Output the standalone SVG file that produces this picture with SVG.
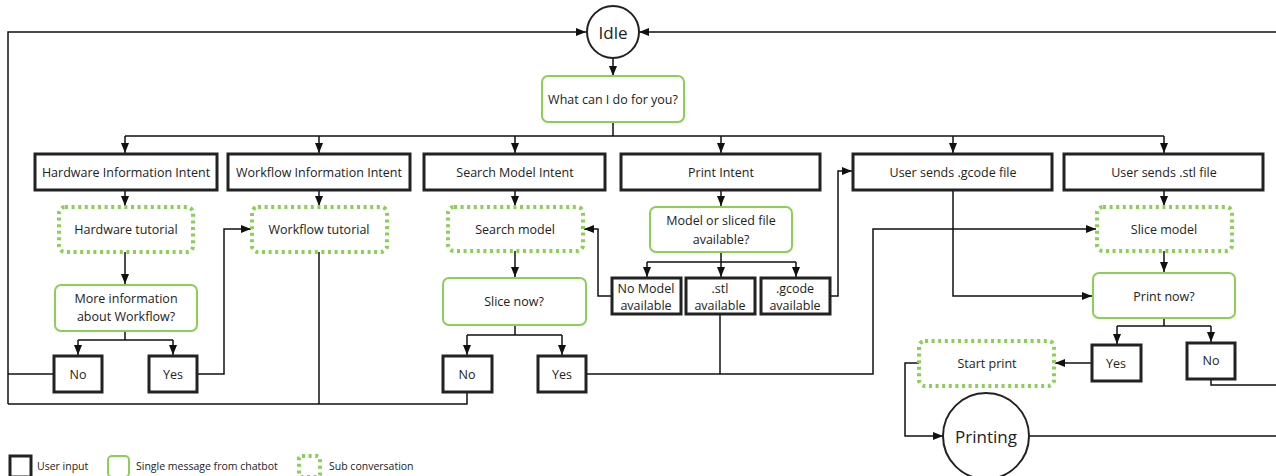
<svg xmlns="http://www.w3.org/2000/svg" width="1276" height="476" viewBox="0 0 1276 476">
<defs>
<marker id="arr" markerUnits="userSpaceOnUse" markerWidth="10" markerHeight="10" viewBox="0 0 10 10" refX="10" refY="5" orient="auto">
<path d="M0,1 L10,5 L0,9 Z" fill="#111"/>
</marker>
</defs>
<style>
text{font-family:"Open Sans","Noto Sans","Liberation Sans",sans-serif;fill:#222;text-anchor:middle;dominant-baseline:central}
.t{font-size:12.5px}
.big{font-size:17px}
.lg{font-size:10.5px;text-anchor:start}
.user{fill:#fff;stroke:#222;stroke-width:3}
.msg{fill:#fff;stroke:#8ccf55;stroke-width:2}
.sub{fill:#fff;stroke:#8ccf55;stroke-width:4;stroke-dasharray:3 3.6}
.circ{fill:#fff;stroke:#222;stroke-width:2}
.c{fill:none;stroke:#111;stroke-width:1.5}
.ca{fill:none;stroke:#111;stroke-width:1.5;marker-end:url(#arr)}
</style>
<g id="connectors">
<path class="ca" d="M8,404 V32 H586"/>
<path class="ca" d="M1276,32 H639"/>
<path class="ca" d="M613,58 V76"/>
<path class="c" d="M613,122 V136 M125,136 H1164"/>
<path class="ca" d="M125,136 V153"/>
<path class="ca" d="M319,136 V153"/>
<path class="ca" d="M515,136 V153"/>
<path class="ca" d="M721,136 V153"/>
<path class="ca" d="M953,136 V153"/>
<path class="ca" d="M1164,136 V153"/>
<path class="ca" d="M125,191 V206"/>
<path class="ca" d="M319,191 V206"/>
<path class="ca" d="M515,191 V206"/>
<path class="ca" d="M721,191 V206"/>
<path class="ca" d="M1164,191 V206"/>
<path class="ca" d="M125,252 V284"/>
<path class="c" d="M125,331 V340 M78,340 H173"/>
<path class="ca" d="M78,340 V355"/>
<path class="ca" d="M173,340 V355"/>
<path class="c" d="M54,374 H8"/>
<path class="ca" d="M197,374 H224 V229 H251"/>
<path class="c" d="M319,252 V404"/>
<path class="c" d="M8,404 H467 V392"/>
<path class="ca" d="M515,251 V277"/>
<path class="c" d="M515,325 V335 M467,335 H562"/>
<path class="ca" d="M467,335 V355"/>
<path class="ca" d="M562,335 V355"/>
<path class="c" d="M721,252 V262 M647,262 H796"/>
<path class="ca" d="M647,262 V277"/>
<path class="ca" d="M721,262 V277"/>
<path class="ca" d="M796,262 V277"/>
<path class="ca" d="M612,296 H598 V229 H584"/>
<path class="ca" d="M830,296 H838 V171 H852"/>
<path class="c" d="M720,314 V374"/>
<path class="ca" d="M586,374 H873 V229 H1096"/>
<path class="ca" d="M953,191 V296 H1092"/>
<path class="ca" d="M1164,251 V272"/>
<path class="c" d="M1164,319 V326 M1117,326 H1211"/>
<path class="ca" d="M1117,326 V344"/>
<path class="ca" d="M1211,326 V342"/>
<path class="c" d="M1211,379 V385 H1276"/>
<path class="ca" d="M1092,363 H1055"/>
<path class="ca" d="M919,363 H905 V436 H943"/>
<path class="c" d="M1029,436 H1276"/>
</g>
<g id="idle"><circle class="circ" cx="613" cy="32" r="26"/><text class="big" x="613" y="32">Idle</text></g>
<g id="what"><rect class="msg" x="542" y="76" width="142" height="46" rx="6"/><text class="t" x="613" y="99">What can I do for you?</text></g>
<g id="hw-intent"><rect class="user" x="35" y="154" width="182" height="36"/><text class="t" x="126" y="172">Hardware Information Intent</text></g>
<g id="wf-intent"><rect class="user" x="228" y="154" width="182" height="36"/><text class="t" x="319" y="172">Workflow Information Intent</text></g>
<g id="search-intent"><rect class="user" x="424" y="154" width="181" height="36"/><text class="t" x="515" y="172">Search Model Intent</text></g>
<g id="print-intent"><rect class="user" x="621" y="154" width="199" height="36"/><text class="t" x="721" y="172">Print Intent</text></g>
<g id="gcode-file"><rect class="user" x="853" y="154" width="199" height="36"/><text class="t" x="953" y="172">User sends .gcode file</text></g>
<g id="stl-file"><rect class="user" x="1064" y="154" width="199" height="36"/><text class="t" x="1164" y="172">User sends .stl file</text></g>
<g id="hw-tutorial"><rect class="sub" x="59" y="207" width="134" height="45" rx="6"/><text class="t" x="126" y="229">Hardware tutorial</text></g>
<g id="wf-tutorial"><rect class="sub" x="252" y="207" width="135" height="45" rx="6"/><text class="t" x="319" y="229">Workflow tutorial</text></g>
<g id="search-model"><rect class="sub" x="448" y="207" width="135" height="44" rx="6"/><text class="t" x="515" y="229">Search model</text></g>
<g id="model-avail"><rect class="msg" x="650" y="207" width="142" height="45" rx="6"/><text class="t" x="721" y="220">Model or sliced file</text><text class="t" x="721" y="239">available?</text></g>
<g id="slice-model"><rect class="sub" x="1097" y="207" width="135" height="44" rx="6"/><text class="t" x="1164" y="229">Slice model</text></g>
<g id="more-info"><rect class="msg" x="55" y="285" width="142" height="46" rx="6"/><text class="t" x="126" y="298">More information</text><text class="t" x="126" y="316">about Workflow?</text></g>
<g id="slice-now"><rect class="msg" x="443" y="278" width="143" height="47" rx="6"/><text class="t" x="514" y="301">Slice now?</text></g>
<g id="no-model"><rect class="user" x="612" y="278" width="69" height="36"/><text class="t" x="646" y="288">No Model</text><text class="t" x="646" y="305">available</text></g>
<g id="stl-avail"><rect class="user" x="686" y="278" width="69" height="36"/><text class="t" x="720" y="288">.stl</text><text class="t" x="720" y="305">available</text></g>
<g id="gcode-avail"><rect class="user" x="761" y="278" width="69" height="36"/><text class="t" x="795" y="288">.gcode</text><text class="t" x="795" y="305">available</text></g>
<g id="print-now"><rect class="msg" x="1093" y="273" width="142" height="45" rx="6"/><text class="t" x="1164" y="296">Print now?</text></g>
<g id="no-1"><rect class="user" x="54" y="356" width="48" height="36"/><text class="t" x="78" y="374">No</text></g>
<g id="yes-1"><rect class="user" x="149" y="356" width="48" height="36"/><text class="t" x="173" y="374">Yes</text></g>
<g id="no-2"><rect class="user" x="443" y="356" width="49" height="36"/><text class="t" x="467" y="374">No</text></g>
<g id="yes-2"><rect class="user" x="538" y="356" width="48" height="36"/><text class="t" x="562" y="374">Yes</text></g>
<g id="yes-3"><rect class="user" x="1092" y="345" width="49" height="36"/><text class="t" x="1116" y="363">Yes</text></g>
<g id="no-3"><rect class="user" x="1187" y="343" width="48" height="36"/><text class="t" x="1211" y="360">No</text></g>
<g id="start-print"><rect class="sub" x="919" y="341" width="135" height="45" rx="6"/><text class="t" x="987" y="363">Start print</text></g>
<g id="printing"><circle class="circ" cx="986" cy="436" r="43"/><text class="big" x="986" y="436">Printing</text></g>
<g id="legend">
<rect class="user" x="10" y="456" width="21" height="21"/><text class="lg" x="37" y="466">User input</text>
<rect class="msg" x="108" y="456" width="21" height="21" rx="4"/><text class="lg" x="136" y="466">Single message from chatbot</text>
<rect class="sub" x="299" y="456" width="21" height="21" rx="3"/><text class="lg" x="329" y="466">Sub conversation</text>
</g>
</svg>
